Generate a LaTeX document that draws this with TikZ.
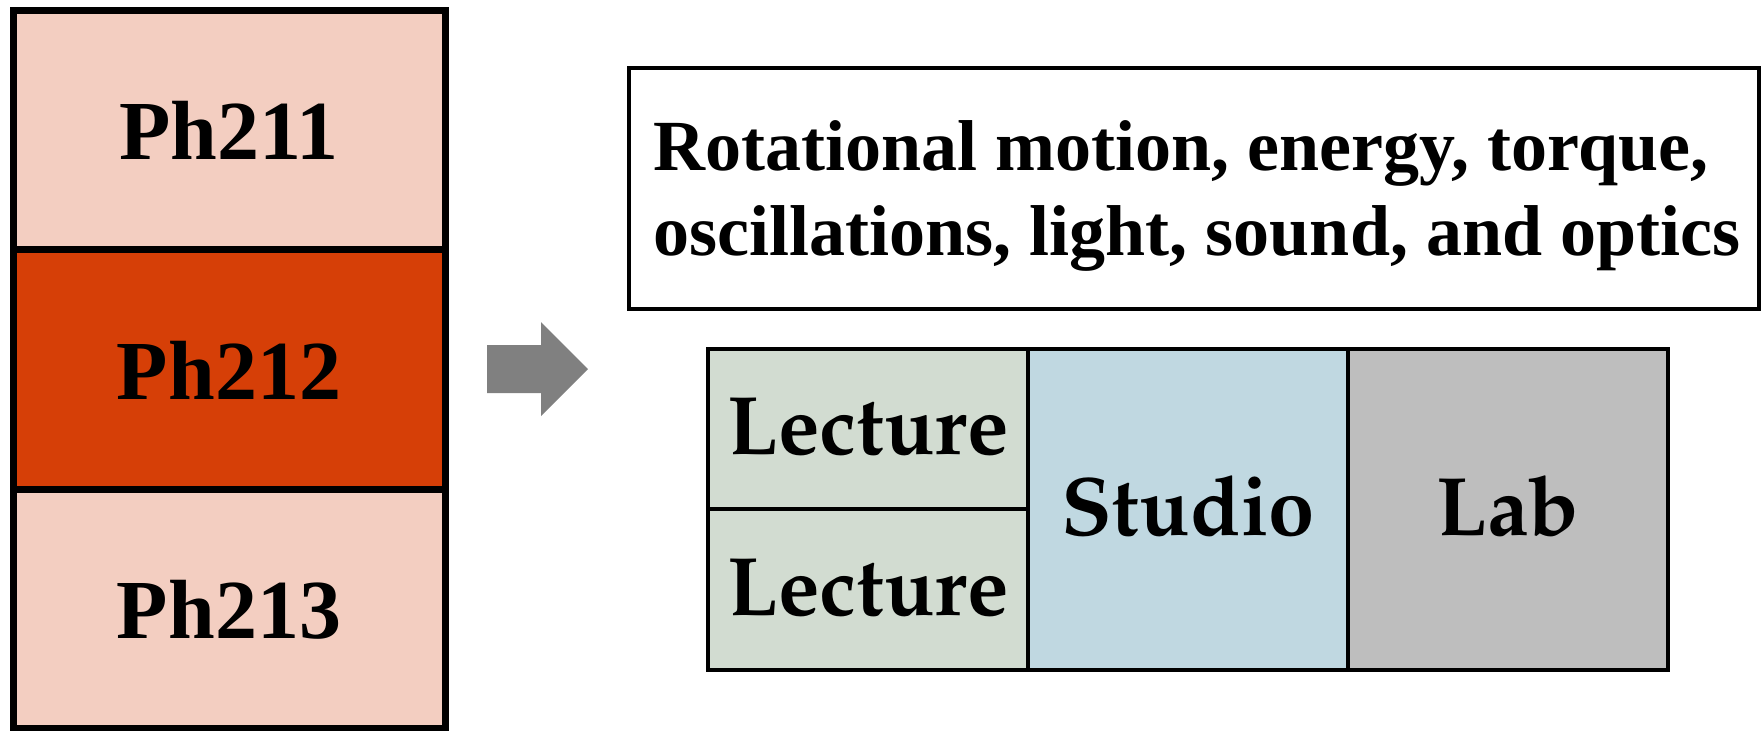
\documentclass[tikz,border=0pt]{standalone}
\usepackage[T1]{fontenc}
\usepackage{fontspec}
\setmainfont{Liberation Serif}
\newfontfamily\timesb{Liberation Serif}[BoldFont={* Bold}]
\newcommand{\palb}{\fontencoding{T1}\fontfamily{ppl}\fontseries{b}\selectfont}
\definecolor{pinkc}{HTML}{F3CEC1}
\definecolor{orangec}{HTML}{D63F07}
\definecolor{lecc}{HTML}{D2DCD1}
\definecolor{studc}{HTML}{C0D8E1}
\definecolor{labc}{HTML}{BEBEBE}
\definecolor{arrc}{HTML}{808080}
\tikzset{
  course/.style={draw=black, line width=3.5pt, rectangle, inner sep=0pt, outer sep=0pt,
    minimum width=216pt, font=\timesb\bfseries\fontsize{42}{48}\selectfont,
    text height=30pt, text depth=0pt},
  cell/.style={draw=black, line width=2pt, rectangle, inner sep=0pt, outer sep=0pt,
    minimum width=160pt, font=\palb\fontsize{41.5}{48}\selectfont,
    text height=25.5pt, text depth=0pt},
  topicbox/.style={draw=black, line width=2pt, rectangle, inner sep=0pt, outer sep=0pt,
    minimum width=565pt, minimum height=120.5pt},
  topictext/.style={align=left, inner sep=0pt, font=\timesb\bfseries\fontsize{36}{42.5}\selectfont}
}
\begin{document}
\begin{tikzpicture}[x=0.5pt, y=-0.5pt]
\useasboundingbox (0,0) rectangle (1762,730);
% left column
\node[course, fill=pinkc, minimum height=119.5pt] (ph211) at (229,129.5) {Ph211};
\node[course, fill=orangec, minimum height=120pt] (ph212) at (229,369) {Ph212};
\node[course, fill=pinkc, minimum height=119.5pt] (ph213) at (229,608.5) {Ph213};
% arrow
\fill[arrc] (487,345) -- (541,345) -- (541,322) -- (588,369) -- (541,416) -- (541,393) -- (487,393) -- cycle;
% topic box
\node[topicbox] (topic) at (1194,188.5) {};
\node[topictext, yshift=-3.5pt, xshift=1.5pt] (topictxt) at (topic.center) {Rotational motion, energy, torque,\\oscillations, light, sound, and optics};
% table
\node[cell, fill=lecc, minimum height=80pt] (lec1) at (868,429) {Lecture};
\node[cell, fill=lecc, minimum height=80.5pt] (lec2) at (868,589.5) {Lecture};
\node[cell, fill=studc, minimum height=160.5pt] (studio) at (1188,509.5) {Studio};
\node[cell, fill=labc, minimum height=160.5pt] (lab) at (1508,509.5) {Lab};
\end{tikzpicture}
\end{document}
